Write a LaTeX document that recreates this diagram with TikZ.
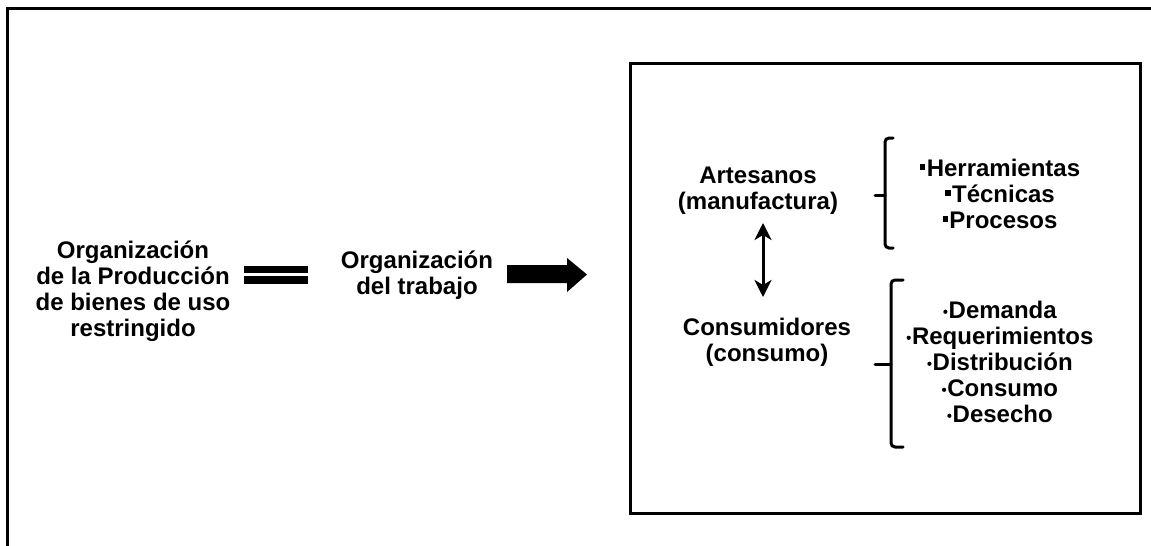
\documentclass[tikz,border=0pt]{standalone}
\usepackage{fontspec}
\setmainfont{Liberation Sans}
\usetikzlibrary{arrows.meta}
% list markers: small square and small round dot
\newcommand{\sqbul}{\tikz[baseline=-9.5pt]\fill (-2.7pt,-2.7pt) rectangle (2.7pt,2.7pt);\hspace{1.5pt}}
\newcommand{\dotbul}{\tikz[baseline=-6.8pt]\fill (0pt,0pt) circle (2.1pt);\hspace{1.2pt}}
\begin{document}
\begin{tikzpicture}[x=1pt,y=-1pt,
  lbl/.style={font=\bfseries\fontsize{24}{26}\selectfont, align=center, inner sep=0pt},
  frame/.style={line width=3pt},
  brace/.style={line width=3pt, rounded corners=4pt, line cap=round},
  bar/.style={fill=black},
  twoway/.style={line width=3pt, {Stealth[length=17pt,width=17pt,inset=5pt]}-{Stealth[length=17pt,width=17pt,inset=5pt]}},
]
\useasboundingbox (0,0) rectangle (1151,546);

% outer frame (open towards the right and the bottom)
\draw[frame] (7,546) -- (7,8.5) -- (1151,8.5);
% inner box
\draw[frame] (630,63) rectangle (1140,513);

% left side
\node[lbl] (prod) at (133,291) {Organización\\de la Producción\\de bienes de uso\\restringido};
\fill[bar] (244,266) rectangle (308,273);
\fill[bar] (244,276) rectangle (308,284);
\node[lbl] (trab) at (417,275.5) {Organización\\del trabajo};
\fill (507,265) -- (567,265) -- (567,258) -- (587,274.5) -- (567,292) -- (567,283) -- (507,283) -- cycle;

% inside the box
\node[lbl] (art) at (758,191) {Artesanos\\(manufactura)};
\node[lbl] (cons) at (767,342) {Consumidores\\(consumo)};
\coordinate (aTop) at (763,223);
\coordinate (aBot) at (763,297);
\draw[twoway] (aTop) -- (aBot);

% braces
\draw[brace] (893,138) -- (885,138) -- (885,248) -- (893,248);
\draw[brace] (875,195) -- (885,195);
\draw[brace] (903,280) -- (891,280) -- (891,447) -- (903,447);
\draw[brace] (875,364) -- (891,364);

% lists
\node[lbl] (tools) at (1000,194) {\sqbul Herramientas\\\sqbul Técnicas\\\sqbul Procesos};
\node[lbl] (needs) at (1000,362) {\dotbul Demanda\\\dotbul Requerimientos\\\dotbul Distribución\\\dotbul Consumo\\\dotbul Desecho};
\end{tikzpicture}
\end{document}
